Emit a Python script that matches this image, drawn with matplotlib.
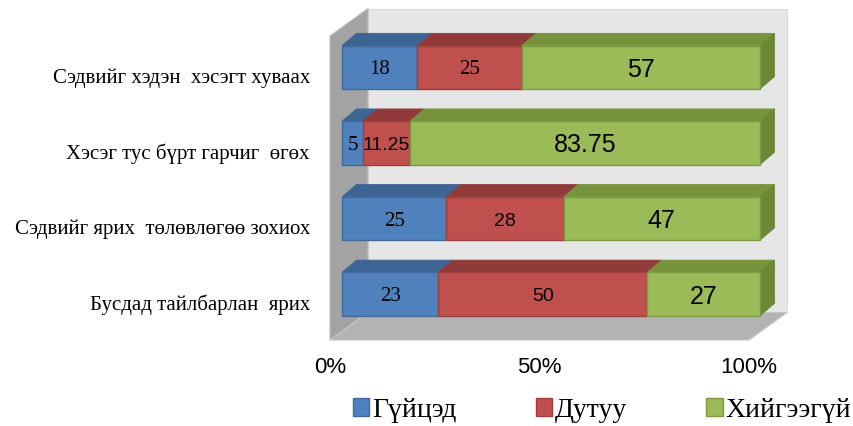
import matplotlib
matplotlib.use("Agg")
import matplotlib.pyplot as plt
from matplotlib.patches import Polygon, Patch

# --- data ---
categories = [
    "Сэдвийг хэдэн  хэсэгт хуваах",
    "Хэсэг тус бүрт гарчиг  өгөх",
    "Сэдвийг ярих  төлөвлөгөө зохиох",
    "Бусдад тайлбарлан  ярих",
]
series_names = ["Гүйцэд", "Дутуу", "Хийгээгүй"]
guitsed = [18, 5, 25, 23]
dutuu = [25, 11.25, 28, 50]
hiigeegui = [57, 83.75, 47, 27]
tick_values = [0, 50, 100]

# --- style ---
front = ["#4f81bd", "#c0504d", "#9bbb59"]
top = ["#3d6594", "#903b39", "#77933c"]
edge = ["#41699a", "#9c403d", "#7c9a42"]
side_green = "#6b8836"

W, H, DPI = 854, 427, 100
# pixel geometry of the bars' front plane
X0, PX_PER_PCT = 342, 4.18
Y0, ROW = 68.3, 75.6


def dpx(dx, dy):
    """pixel offset -> data offset"""
    return dx / PX_PER_PCT, dy / ROW


fig = plt.figure(figsize=(W / DPI, H / DPI), dpi=DPI)
ax = fig.add_axes([0, 0, 1, 1])
ax.set_xlim(-X0 / PX_PER_PCT, (W - X0) / PX_PER_PCT)
ax.set_ylim((H - Y0) / ROW, -Y0 / ROW)
ax.axis("off")

# --- walls and floor (3-D box) ---
wl, _ = dpx(330 - X0, 0)
wr, _ = dpx(749 - X0, 0)
_, wtop = dpx(0, 37 - Y0)
_, wbot = dpx(0, 341 - Y0)
ddx, ddy = dpx(38, -27.5)

ax.add_patch(Polygon([(wl + ddx, wtop + ddy), (wr + ddx, wtop + ddy),
                      (wr + ddx, wbot + ddy), (wl + ddx, wbot + ddy)],
                     closed=True, facecolor="#e6e6e6", edgecolor="#d9d9d9", lw=0.8, zorder=1))
ax.add_patch(Polygon([(wl, wtop), (wl + ddx, wtop + ddy), (wl + ddx, wbot + ddy), (wl, wbot)],
                     closed=True, facecolor="#a3a3a3", edgecolor="#bdbdbd", lw=0.8, zorder=1))
ax.add_patch(Polygon([(wl, wbot), (wr, wbot), (wr + ddx, wbot + ddy), (wl + ddx, wbot + ddy)],
                     closed=True, facecolor="#b3b3b3", edgecolor="#c6c6c6", lw=0.8, zorder=1))

# --- 3-D stacked bars ---
h = 43.3 / ROW
bdx, bdy = dpx(14.5, -12.3)
ypos = list(range(len(categories)))
series = [guitsed, dutuu, hiigeegui]
lefts = [0.0] * len(categories)

for s, vals in enumerate(series):
    ax.barh(ypos, vals, left=lefts, height=h, color=front[s], edgecolor=edge[s],
            linewidth=1.0, zorder=3)
    for i, v in enumerate(vals):
        l = lefts[i]
        t = i - h / 2
        ax.add_patch(Polygon([(l, t), (l + v, t), (l + v + bdx, t + bdy), (l + bdx, t + bdy)],
                             closed=True, facecolor=top[s], edgecolor=top[s], lw=0.6, zorder=2))
        if s == len(series) - 1:
            r, b = l + v, i + h / 2
            ax.add_patch(Polygon([(r, t), (r + bdx, t + bdy), (r + bdx, b + bdy), (r, b)],
                                 closed=True, facecolor=side_green, edgecolor=side_green,
                                 lw=0.6, zorder=2))
    lefts = [a + b for a, b in zip(lefts, vals)]

# data labels (fonts differ per series as in the original)
lefts = [0.0] * len(categories)
for s, vals in enumerate(series):
    for i, v in enumerate(vals):
        cx = lefts[i] + v / 2
        if s == 0 or (s == 1 and i == 0):
            kw = dict(family="Liberation Serif", size=15)
        elif s == 1:
            kw = dict(family="Liberation Sans", size=14)
        else:
            kw = dict(family="Liberation Sans", size=18)
        ax.text(cx, i + 0.02, f"{v:g}", ha="center", va="center", color="black", zorder=5, **kw)
    lefts = [a + b for a, b in zip(lefts, vals)]

# category labels
for i, cat in enumerate(categories):
    ax.text(dpx(310 - X0, 0)[0], i + 0.128, cat, ha="right", va="center",
            family="Liberation Serif", size=15, color="black")

# x tick labels on the front edge of the floor
_, ty = dpx(0, 368 - Y0)
for v in tick_values:
    ax.text(wl + v * (wr - wl) / 100, ty, f"{v}%", ha="center", va="center",
            family="Liberation Sans", size=16, color="black")

handles = [Patch(facecolor=front[k], edgecolor=edge[k]) for k in range(3)]
fig.legend(handles, series_names, loc="center", bbox_to_anchor=(602 / W, 1 - 411 / H),
           ncol=3, frameon=False, prop=dict(family="Liberation Serif", size=20),
           handlelength=0.6, handleheight=0.6, handletextpad=0.1, columnspacing=2.85)

fig.savefig("out.png", dpi=DPI)
